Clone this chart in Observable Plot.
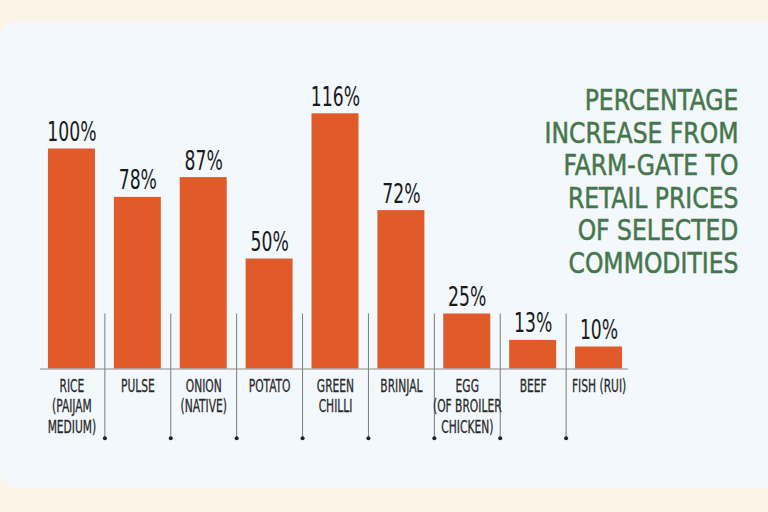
<!DOCTYPE html>
<html>
<head>
<meta charset="utf-8">
<script src="https://cdn.jsdelivr.net/npm/d3@7"></script>
<script src="https://cdn.jsdelivr.net/npm/@observablehq/plot@0.6"></script>
<style>
  html, body { margin: 0; padding: 0; }
  body { width: 768px; height: 512px; background: #fdf4e8; position: relative; overflow: hidden;
         font-family: "DejaVu Sans Condensed", "DejaVu Sans", sans-serif; }
  #panel { position: absolute; left: 0; top: 22px; width: 790px; height: 465px; background: #f3f8fc;
           border-radius: 16px 0 0 16px; }
  #chart { position: absolute; left: 0; top: 0; }
  #title { position: absolute; right: 30px; top: 84px; text-align: right; color: #46764b;
           font-size: 29px; line-height: 32.6px; -webkit-text-stroke: 0.5px #46764b; }
  #title div { transform: scaleX(0.9); transform-origin: right center; white-space: nowrap; }
</style>
</head>
<body>
<div id="panel"></div>
<div id="chart"></div>
<div id="title"><div>PERCENTAGE</div><div>INCREASE FROM</div><div>FARM-GATE TO</div><div>RETAIL PRICES</div><div>OF SELECTED</div><div>COMMODITIES</div></div>
<script>
const categories = ["RICE\n(PAIJAM\nMEDIUM)", "PULSE", "ONION\n(NATIVE)", "POTATO", "GREEN\nCHILLI", "BRINJAL", "EGG\n(OF BROILER\nCHICKEN)", "BEEF", "FISH (RUI)"];
const increasePct = [100, 78, 87, 50, 116, 72, 25, 13, 10];
const valueLabels = ["100%", "78%", "87%", "50%", "116%", "72%", "25%", "13%", "10%"];

const data = categories.map((c, i) => ({cat: c, v: increasePct[i], label: valueLabels[i]}));
const dividers = categories.slice(0, -1);
const step = (631.5 - 38.5) / categories.length;

const chart = Plot.plot({
  width: 768,
  height: 512,
  marginLeft: 40,
  marginRight: 140,
  marginTop: 0,
  marginBottom: 0,
  style: {background: "transparent", fontFamily: "\"DejaVu Sans Condensed\", \"DejaVu Sans\", sans-serif"},
  x: {domain: categories, range: [38.5, 631.5], paddingInner: 0.287, paddingOuter: 0.1435, round: false, axis: null},
  y: {domain: [0, 120], range: [368.5, 104.5], axis: null},
  marks: [
    Plot.ruleX(dividers, {x: d => d, dx: step / 2, y1: 25, y2: -31.5, stroke: "#7a7a7a", strokeWidth: 1}),
    Plot.dot(dividers, {x: d => d, dx: step / 2, y: -31.5, r: 2, fill: "#222", stroke: null}),
    Plot.barY(data, {x: "cat", y: "v", fill: "#e05a2a"}),
    Plot.ruleY([0], {stroke: "#8a8a8a", strokeWidth: 1}),
    Plot.text(data, {x: "cat", y: "v", text: "label", dy: -8, lineAnchor: "bottom", fontSize: 27, fill: "#1a1a1a"}),
    Plot.text(data, {x: "cat", y: 0, text: "cat", dy: 9, lineAnchor: "top", lineHeight: 1.15, fontSize: 17.5, fill: "#2a2a2a", stroke: "#2a2a2a", strokeWidth: 0.3})
  ]
});
document.getElementById("chart").appendChild(chart);

// condense the text glyphs horizontally (no condensed display font is installed)
const groups = chart.querySelectorAll('g[aria-label="text"]');
const squeeze = [0.71, 0.68];
groups.forEach((g, gi) => {
  const s = squeeze[gi] ?? 1;
  g.querySelectorAll("text").forEach(t => {
    const tr = t.getAttribute("transform");
    if (tr) t.setAttribute("transform", tr + ` scale(${s},1)`);
    else {
      const x = +t.getAttribute("x") || 0, y = +t.getAttribute("y") || 0;
      t.removeAttribute("x"); t.removeAttribute("y");
      t.setAttribute("transform", `translate(${x},${y}) scale(${s},1)`);
    }
  });
});
</script>
</body>
</html>
